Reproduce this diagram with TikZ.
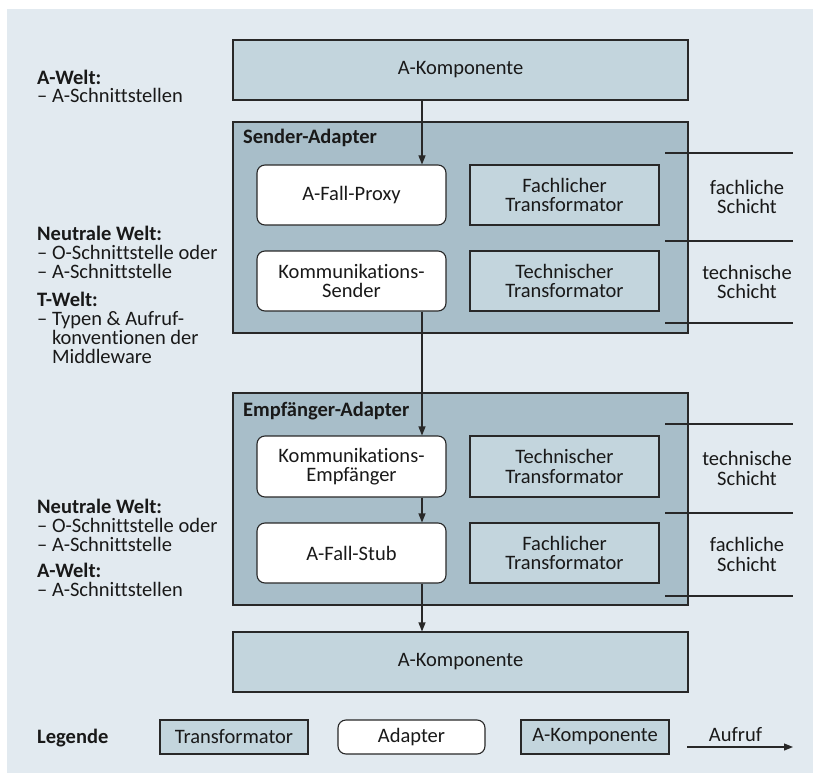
\documentclass[tikz,border=0pt]{standalone}
\usepackage{fontspec}
\setmainfont[Ligatures=NoCommon]{Carlito}
\usetikzlibrary{arrows.meta}
\definecolor{bgblue}{RGB}{226,234,240}
\definecolor{boxblue}{RGB}{195,213,221}
\definecolor{adblue}{RGB}{168,190,201}
\definecolor{linegray}{RGB}{40,40,40}
\definecolor{txt}{RGB}{25,25,25}

\begin{document}
\begin{tikzpicture}[x=1pt,y=-1pt,
  every node/.style={font=\fontsize{20.5}{19.5}\selectfont, text=txt, inner sep=0pt},
  comp/.style={draw=linegray, line width=1.1pt, fill=boxblue,
    minimum width=455pt, minimum height=60pt},
  trafo/.style={draw=linegray, line width=1.1pt, fill=boxblue,
    minimum width=189pt, minimum height=60pt, align=center},
  adapterbox/.style={draw=linegray, line width=1.1pt, fill=white, rounded corners=8pt,
    minimum width=189pt, minimum height=60pt, align=center},
  container/.style={draw=linegray, line width=1.1pt, fill=adblue, minimum width=455pt},
  legbox/.style={draw=linegray, line width=1.1pt, minimum height=34pt},
  sidetext/.style={align=left, anchor=base west, font=\fontsize{20.5}{18.7}\selectfont},
  layertext/.style={align=center},
  title/.style={anchor=base west, font=\bfseries\fontsize{20.5}{19.5}\selectfont},
  call/.style={draw=linegray, line width=1.1pt, -{Triangle[length=9pt,width=7pt]}},
  layerline/.style={draw=linegray, line width=1.1pt}
]
% page and background panel
\useasboundingbox (0,0) rectangle (814,773);
\fill[white] (0,0) rectangle (814,773);
\fill[bgblue] (7,9) rectangle (813,773);

% column of the call arrows
\coordinate (ax) at (422,0);

% upper component and sender adapter
\node[comp] (akomp1) at (460.5,70) {A-Komponente};
\node[container, minimum height=211pt] (sender) at (460.5,227.5) {};
\node[title] (sendertitle) at (243,144) {Sender-Adapter};
\node[adapterbox] (proxy) at (351.5,195) {A-Fall-Proxy};
\node[trafo] (fach1) at (564.5,195) {Fachlicher\\Transformator};
\node[adapterbox] (ksender) at (351.5,281) {Kommunikations-\\Sender};
\node[trafo] (tech1) at (564.5,281) {Technischer\\Transformator};

% receiver adapter and lower component
\node[container, minimum height=212pt] (empf) at (460.5,499) {};
\node[title] (empftitle) at (243,416) {Empfänger-Adapter};
\node[adapterbox, minimum height=61pt] (kempf) at (351.5,466.5) {Kommunikations-\\Empfänger};
\node[trafo, minimum height=61pt] (tech2) at (564.5,466.5) {Technischer\\Transformator};
\node[adapterbox] (stub) at (351.5,553) {A-Fall-Stub};
\node[trafo] (fach2) at (564.5,553) {Fachlicher\\Transformator};
\node[comp] (akomp2) at (460.5,662) {A-Komponente};

% calls
\draw[call] (akomp1.south -| ax) -- (proxy.north -| ax);
\draw[call] (ksender.south -| ax) -- (kempf.north -| ax);
\draw[call] (kempf.south -| ax) -- (stub.north -| ax);
\draw[call] (stub.south -| ax) -- (akomp2.north -| ax);

% layer separators on the right
\foreach \n/\y in {a/153,b/241,c/323,d/424,e/513,f/596}{
  \coordinate (ls\n) at (665,\y);
  \coordinate (le\n) at (793,\y);
  \draw[layerline] (ls\n) -- (le\n);
}
\node[layertext] (lay1) at (747,197) {fachliche\\Schicht};
\node[layertext] (lay2) at (747,282) {technische\\Schicht};
\node[layertext] (lay3) at (747,468.5) {technische\\Schicht};
\node[layertext] (lay4) at (747,554.5) {fachliche\\Schicht};

% world descriptions on the left (anchored at the baseline of the last line)
\node[sidetext] (w1) at (37,103) {\textbf{A-Welt:}\\– A-Schnittstellen};
\node[sidetext] (w2) at (37,278) {\textbf{Neutrale Welt:}\\– O-Schnittstelle oder\\– A-Schnittstelle};
\node[sidetext] (w3) at (37,363) {\textbf{T-Welt:}\\– Typen \& Aufruf-\\\phantom{– }konventionen der\\\phantom{– }Middleware};
\node[sidetext] (w4) at (37,551) {\textbf{Neutrale Welt:}\\– O-Schnittstelle oder\\– A-Schnittstelle};
\node[sidetext] (w5) at (37,596) {\textbf{A-Welt:}\\– A-Schnittstellen};

% legend
\node[title] (legtitle) at (37,743) {Legende};
\node[legbox, fill=boxblue, minimum width=148pt] (legtrafo) at (234,737) {Transformator};
\node[legbox, fill=white, rounded corners=8pt, minimum width=147pt] (legadapter) at (411.5,737) {Adapter};
\node[legbox, fill=boxblue, minimum width=148pt] (legkomp) at (595,737) {A-Komponente};
\coordinate (callstart) at (687,747);
\coordinate (callend) at (793,747);
\draw[call] (callstart) -- (callend);
\node[anchor=base] (calltext) at (735.5,741) {Aufruf};
\end{tikzpicture}
\end{document}
